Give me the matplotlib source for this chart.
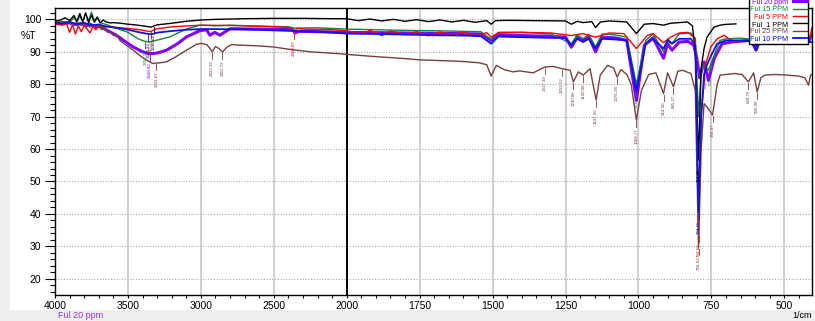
import numpy as np
import matplotlib
matplotlib.use('Agg')
import matplotlib.pyplot as plt
import matplotlib.ticker as mtick
from matplotlib.patches import Rectangle

plt.rcParams['font.family'] = ['Liberation Sans', 'DejaVu Sans']

# ---- spectra (wavenumber 1/cm, %T) ----
wn_purple = [4000, 3950, 3900, 3860, 3820, 3790, 3760, 3720, 3690, 3650, 3600, 3560, 3530, 3464, 3400,
             3350, 3300, 3235, 3160, 3098, 3007, 2960, 2938, 2905, 2870, 2800, 2600, 2400, 2368, 2355,
             2330, 2200, 2000, 1800, 1600, 1540, 1505, 1480, 1400, 1300, 1250, 1230, 1210, 1190, 1170,
             1147, 1125, 1080, 1040, 1007, 980, 950, 914, 900, 885, 860, 830, 810, 800, 790,
             775, 760, 740, 713, 680, 620, 605, 597, 585, 550, 500, 450, 415, 405]
t_purple = [99.0, 98.8, 98.9, 98.4, 98.7, 98.0, 98.5, 97.6, 97.8, 96.8, 95.6, 94.5, 93.5, 91.5, 90.0,
            89.4, 89.6, 90.5, 92.5, 94.6, 96.5, 96.8, 95.1, 96.0, 95.1, 97.1, 97.0, 96.9, 96.8, 95.8,
            96.3, 96.2, 96.0, 95.8, 95.6, 95.5, 93.5, 95.3, 95.0, 94.8, 94.5, 91.4, 94.5, 93.5, 94.6,
            90.0, 94.5, 94.3, 93.5, 75.0, 92.0, 94.3, 88.0, 92.5, 90.5, 93.0, 93.2, 92.0, 88.0, 82.0,
            86.9, 81.2, 88.0, 92.5, 93.0, 93.5, 92.0, 90.5, 93.3, 93.6, 93.7, 93.6, 93.5, 95.0]

wn_green = [4000, 3950, 3900, 3870, 3850, 3830, 3810, 3790, 3770, 3750, 3730, 3710, 3690, 3650, 3600,
            3550, 3500, 3430, 3390, 3350, 3300, 3212, 3100, 3007, 2900, 2800, 2600, 2400, 2360, 2200,
            2000, 1900, 1800, 1700, 1600, 1540, 1505, 1480, 1400, 1300, 1230, 1210, 1190, 1170, 1147,
            1125, 1080, 1040, 1007, 975, 950, 914, 900, 885, 860, 820, 805, 794, 785, 775,
            760, 740, 720, 700, 650, 605, 597, 585, 550, 500, 450, 415, 405]
t_green = [99.0, 99.3, 99.0, 100.5, 99.2, 101.0, 99.4, 101.8, 99.5, 102.2, 99.6, 100.8, 99.0, 98.4, 97.6,
           96.8, 96.0, 94.0, 93.3, 93.0, 93.6, 94.6, 97.0, 98.2, 98.0, 98.2, 97.9, 97.7, 97.3, 97.4,
           97.0, 96.8, 96.6, 96.5, 96.3, 96.2, 93.8, 96.0, 96.0, 95.5, 92.5, 95.2, 94.0, 95.3, 91.5,
           95.5, 95.2, 94.5, 80.0, 93.5, 95.5, 90.0, 94.0, 92.6, 95.5, 95.8, 94.0, 70.0, 84.0, 86.0,
           84.3, 89.0, 93.5, 94.0, 94.2, 93.8, 92.0, 94.0, 94.3, 94.3, 94.2, 94.0, 96.0]

wn_red = [4000, 3950, 3920, 3900, 3880, 3860, 3840, 3820, 3800, 3780, 3760, 3740, 3720, 3700, 3650,
          3600, 3500, 3420, 3345, 3320, 3300, 3200, 3000, 2800, 2600, 2436, 2380, 2360, 2340, 2300,
          2100, 2000, 1950, 1920, 1880, 1850, 1800, 1760, 1720, 1680, 1640, 1600, 1560, 1520, 1505,
          1480, 1400, 1300, 1230, 1190, 1147, 1100, 1050, 1007, 970, 950, 914, 890, 860, 830,
          805, 794, 785, 770, 752, 730, 706, 690, 670, 640, 600, 556, 500, 450, 412, 405]
t_red = [98.5, 98.2, 98.6, 96.0, 98.3, 95.5, 98.0, 96.2, 98.1, 97.0, 95.8, 97.8, 96.8, 97.9, 97.8,
         97.6, 97.2, 96.8, 96.2, 96.8, 97.1, 97.7, 98.2, 98.1, 97.9, 97.6, 97.4, 96.1, 97.2, 97.0,
         96.8, 96.5, 95.5, 96.6, 95.0, 96.4, 95.3, 96.2, 94.9, 96.1, 95.2, 96.0, 94.8, 95.9, 94.5,
         95.9, 96.0, 95.8, 95.0, 95.6, 94.5, 95.8, 95.6, 91.0, 95.0, 95.6, 92.8, 94.5, 95.8, 96.0,
         94.0, 33.5, 70.0, 86.0, 91.5, 94.0, 95.1, 94.0, 93.0, 93.5, 93.8, 93.5, 93.8, 94.0, 94.6, 97.5]

wn_black = [4000, 3960, 3930, 3900, 3870, 3850, 3830, 3810, 3790, 3770, 3750, 3730, 3710, 3690, 3670,
            3650, 3620, 3600, 3550, 3500, 3450, 3400, 3340, 3320, 3300, 3200, 3100, 3000, 2900, 2700,
            2500, 2300, 2100, 2000, 1960, 1920, 1880, 1840, 1800, 1760, 1720, 1680, 1640, 1600, 1560,
            1520, 1505, 1490, 1450, 1350, 1250, 1230, 1210, 1190, 1160, 1147, 1130, 1100, 1040, 1007,
            980, 950, 914, 890, 860, 832, 815, 805, 794, 785, 775, 765, 741, 720, 706, 690, 666]
t_black = [99.5, 99.8, 100.5, 99.6, 101.2, 99.4, 101.8, 99.2, 102.0, 99.0, 101.3, 99.1, 100.6, 98.9, 99.8,
           99.2, 98.9, 99.0, 98.8, 98.5, 98.3, 98.0, 97.6, 98.0, 98.3, 98.8, 99.4, 99.8, 100.0, 100.2,
           100.3, 100.3, 100.2, 100.2, 99.6, 100.1, 99.5, 100.0, 99.4, 99.9, 99.3, 99.8, 99.2, 99.7, 99.1,
           99.6, 98.5, 99.6, 99.7, 99.6, 99.5, 98.5, 99.4, 99.0, 99.3, 97.5, 99.2, 99.5, 99.2, 95.6,
           98.5, 98.7, 98.2, 98.8, 99.0, 99.2, 98.0, 90.0, 56.6, 85.0, 91.0, 94.5, 97.6, 98.2, 98.4, 98.5, 98.6]

wn_brown = [4000, 3960, 3920, 3880, 3850, 3820, 3790, 3760, 3730, 3700, 3680, 3660, 3640, 3623, 3600,
            3580, 3555, 3510, 3464, 3420, 3372, 3330, 3280, 3235, 3170, 3098, 3030, 3000, 2960, 2940,
            2922, 2900, 2875, 2852, 2820, 2790, 2700, 2600, 2505, 2400, 2253, 2150, 2048, 2000, 1900,
            1800, 1750, 1650, 1600, 1545, 1520, 1505, 1487, 1460, 1430, 1407, 1361, 1321, 1292, 1263,
            1234, 1223, 1206, 1189, 1166, 1145, 1131, 1106, 1085, 1073, 1060, 1040, 1025, 1007, 990,
            965, 940, 914, 900, 880, 865, 849, 820, 805, 794, 785, 775, 765, 746, 730,
            720, 700, 671, 645, 623, 605, 593, 580, 567, 530, 490, 450, 430, 417, 410, 405]
t_brown = [99.4, 99.0, 99.3, 98.6, 99.0, 98.2, 98.8, 97.6, 98.4, 97.8, 96.8, 97.5, 96.0, 96.4, 95.0,
           95.5, 93.5, 92.0, 90.5, 88.9, 87.4, 86.4, 86.6, 86.9, 88.5, 90.5, 92.3, 92.6, 92.2, 91.2,
           90.0, 91.6, 91.0, 89.9, 91.5, 92.2, 92.0, 91.8, 91.5, 90.8, 90.0, 89.7, 89.4, 89.2, 88.5,
           87.9, 87.5, 87.2, 87.0, 86.6, 86.0, 82.5, 85.8, 84.5, 83.8, 84.1, 83.5, 85.3, 85.5, 84.8,
           84.3, 80.7, 83.8, 82.8, 84.8, 75.1, 82.8, 85.8, 85.0, 82.2, 84.5, 83.0, 80.0, 68.9, 78.0,
           83.0, 83.5, 77.1, 83.5, 79.2, 84.0, 84.3, 83.3, 78.0, 29.5, 60.0, 74.0, 73.0, 70.5, 80.0,
           82.8, 83.0, 83.3, 83.0, 80.7, 83.5, 77.6, 82.0, 82.8, 83.0, 82.8, 82.5, 82.0, 79.7, 82.8, 83.0]

wn_blue = [4000, 3950, 3900, 3850, 3800, 3750, 3700, 3650, 3600, 3550, 3500, 3450, 3400, 3345, 3320,
           3300, 3200, 3100, 3000, 2900, 2700, 2500, 2360, 2200, 2000, 1900, 1800, 1700, 1600, 1540,
           1505, 1480, 1400, 1300, 1250, 1230, 1210, 1190, 1170, 1147, 1125, 1080, 1040, 1007, 975,
           950, 914, 900, 885, 860, 820, 805, 794, 785, 775, 765, 750, 730, 700, 650,
           620, 605, 597, 585, 550, 500, 450, 420, 405]
t_blue = [99.0, 98.7, 99.1, 98.5, 98.9, 98.2, 98.4, 97.8, 97.5, 97.2, 96.8, 96.3, 95.8, 95.4, 95.6,
          95.9, 96.4, 96.8, 97.0, 97.0, 96.9, 96.6, 96.4, 96.2, 95.6, 95.5, 95.3, 95.1, 95.0, 94.8,
          92.5, 94.7, 94.5, 94.3, 94.2, 92.0, 94.0, 93.0, 94.0, 91.0, 94.0, 93.8, 93.5, 78.0, 92.5,
          94.0, 91.0, 93.5, 92.5, 94.0, 94.0, 92.0, 40.6, 70.0, 83.0, 86.0, 89.0, 92.5, 93.5, 93.5,
          93.3, 92.5, 90.5, 93.3, 93.5, 93.5, 93.2, 93.0, 93.0]

# peak labels (wavenumber where the leader sits, text)
peaks_brown = [(3305, '3331.07'), (2922, '2922.16'), (2852, '2852.72'), (1321, '1317.39'),
               (1263, '1259.52'), (1223, '1230.86'), (1189, '1190.08'), (1145, '1147.65'),
               (1073, '1076.28'), (1007, '1008.77'), (914, '914.30'), (880, '885.27'),
               (794, '794.63'), (746, '744.47'), (623, '628.76'), (593, '596.00')]
peaks_red = [(3340, '3345.13'), (2360, '2360.87'), (794, '794.67')]
peaks_blue = [(3360, '3348.92'), (794, '794.65')]
peaks_black = [(3322, '3336.64'), (794, '794.65')]
peaks_green = [(3380, '3352.00'), (1007, '1016.52'), (752, '765.52')]
peaks_purple = [(3350, '3348.42'), (770, '763.59')]

series = [
    ('Ful 20 ppm', wn_purple, t_purple, '#8000ff', 2.2, peaks_purple),
    ('Ful 15 PPM', wn_green, t_green, '#1a8040', 1.0, peaks_green),
    ('Ful 5 PPM', wn_red, t_red, '#ff0000', 1.0, peaks_red),
    ('Ful_1 PPM', wn_black, t_black, '#000000', 1.0, peaks_black),
    ('Ful 25 PPM', wn_brown, t_brown, '#7b3f3f', 1.0, peaks_brown),
    ('Ful 10 PPM', wn_blue, t_blue, '#0a14e6', 1.3, peaks_blue),
]

xticks = [4000, 3500, 3000, 2500, 2000, 1750, 1500, 1250, 1000, 750, 500]


# wavenumber axis is stretched 2x below 2000 1/cm
def fwd(w):
    w = np.asarray(w, dtype=float)
    return np.where(w >= 2000, w, 2 * w - 2000)


def inv(p):
    p = np.asarray(p, dtype=float)
    return np.where(p >= 2000, p, (p + 2000) / 2)


fig = plt.figure(figsize=(8.15, 3.21), dpi=100)
# faint grey page border like the scanned original
fig.patches.append(Rectangle((0, 0), 1, 1, transform=fig.transFigure, color='#eeeeee', zorder=-2))
fig.patches.append(Rectangle((10 / 815, 12 / 321), 1, 1, transform=fig.transFigure, color='white', zorder=-1))

ax = fig.add_axes([55 / 815, 1 - 295 / 321, (812 - 55) / 815, (295 - 8) / 321])
ax.set_xscale('function', functions=(fwd, inv))
ax.set_xlim(4000, 405)
ax.set_ylim(15, 103.5)

# grid
for y in range(20, 101, 10):
    ax.axhline(y, color='#a8a8a8', lw=0.8, ls=(0, (1, 1.5)), zorder=0)
for x in xticks[1:]:
    if x == 2000:
        ax.axvline(x, color='black', lw=1.4, zorder=0)
    else:
        ax.axvline(x, color='#c8c8c8', lw=1.2, zorder=0)

for name, wn, t, col, lw, peaks in series:
    ax.plot(wn, t, color=col, lw=lw, label=name)
    for pw, txt in peaks:
        pt = np.interp(pw, wn[::-1], t[::-1])
        ax.plot([pw, pw], [pt - 0.3, pt - 2.2], color=col, lw=0.6)
        ax.text(pw, pt - 2.5, txt, rotation=90, ha='center', va='top',
                fontsize=3.2, color=col)

ax.xaxis.set_major_locator(mtick.FixedLocator(xticks))
ax.xaxis.set_minor_locator(mtick.FixedLocator(list(range(4000, 2000, -100)) + list(range(2000, 400, -50))))
ax.xaxis.set_major_formatter(mtick.FixedFormatter([str(v) for v in xticks]))
ax.yaxis.set_major_locator(mtick.MultipleLocator(10))
ax.yaxis.set_minor_locator(mtick.MultipleLocator(2))
ax.tick_params(axis='y', which='major', length=7, width=0.8, labelsize=7.5, pad=3)
ax.tick_params(axis='y', which='minor', length=3.5, width=0.8)
ax.tick_params(axis='x', which='both', length=2.5, width=0.8, labelsize=7.5, pad=2)
for s in ax.spines.values():
    s.set_linewidth(1.0)

ax.text(-0.035, 95, '%T', transform=ax.get_yaxis_transform(), ha='center', va='center', fontsize=7.5)
fig.text(58 / 815, 1 - 315 / 321, 'Ful 20 ppm', color='#9a33ff', fontsize=6.5, ha='left', va='center')
fig.text(812 / 815, 1 - 315 / 321, '1/cm', color='black', fontsize=6.5, ha='right', va='center')

ax.legend(loc='upper right', bbox_to_anchor=(1.0, 1.05), markerfirst=False, labelcolor='linecolor',
          fontsize=5.2, handlelength=2.0, borderpad=0.2, labelspacing=0.05, handletextpad=0.6,
          frameon=True, fancybox=False, edgecolor='black', framealpha=1)

fig.savefig('out.png', dpi=100)
